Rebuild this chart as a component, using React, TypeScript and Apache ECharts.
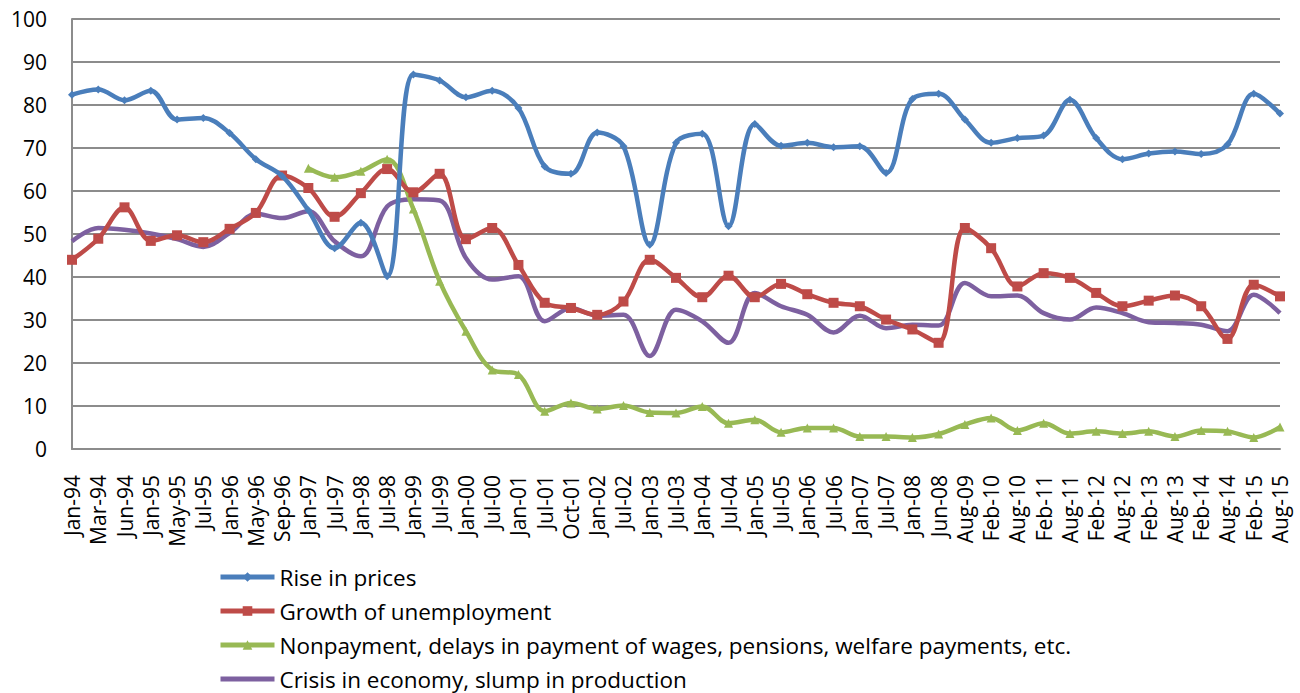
import React, { useEffect, useRef } from "react";
import * as echarts from "echarts";

const categories = [
  "Jan-94", "Mar-94", "Jun-94", "Jan-95", "May-95", "Jul-95", "Jan-96", "May-96", "Sep-96",
  "Jan-97", "Jul-97", "Jan-98", "Jul-98", "Jan-99", "Jul-99", "Jan-00", "Jul-00", "Jan-01",
  "Jul-01", "Oct-01", "Jan-02", "Jul-02", "Jan-03", "Jul-03", "Jan-04", "Jul-04", "Jan-05",
  "Jul-05", "Jan-06", "Jul-06", "Jan-07", "Jul-07", "Jan-08", "Jun-08", "Aug-09", "Feb-10",
  "Aug-10", "Feb-11", "Aug-11", "Feb-12", "Aug-12", "Feb-13", "Aug-13", "Feb-14", "Aug-14",
  "Feb-15", "Aug-15",
];

const riseInPrices = [
  82.4, 83.6, 81.1, 83.3, 76.6, 77.0, 73.5, 67.4, 63.5, 55.5, 46.7, 52.6, 40.2, 87.1, 85.7,
  81.8, 83.3, 79.3, 65.7, 64.0, 73.6, 70.4, 47.5, 71.2, 73.3, 51.8, 75.6, 70.5, 71.2, 70.2,
  70.4, 64.2, 81.4, 82.6, 76.6, 71.2, 72.3, 72.9, 81.2, 72.3, 67.4, 68.7, 69.2, 68.6, 70.8,
  82.6, 78.0,
];

const unemployment = [
  44.0, 48.9, 56.2, 48.4, 49.7, 48.1, 51.2, 54.9, 63.6, 60.7, 54.0, 59.5, 65.1, 59.7, 64.0,
  48.8, 51.4, 42.8, 34.0, 32.8, 31.2, 34.3, 44.0, 39.8, 35.3, 40.3, 35.3, 38.4, 36.0, 34.0,
  33.2, 30.1, 27.8, 24.7, 51.4, 46.7, 37.8, 40.9, 39.8, 36.3, 33.2, 34.5, 35.7, 33.2, 25.6,
  38.2, 35.5,
];

const nonpayment = [
  null, null, null, null, null, null, null, null, null, 65.3, 63.2, 64.6, 67.4, 55.8, 39.0,
  27.4, 18.4, 17.3, 8.8, 10.7, 9.3, 10.1, 8.5, 8.4, 9.9, 6.0, 6.8, 3.9, 4.9, 4.9,
  2.9, 2.9, 2.7, 3.5, 5.7, 7.2, 4.3, 6.0, 3.6, 4.1, 3.6, 4.1, 2.9, 4.3, 4.1,
  2.7, 5.1,
];

const crisis = [
  48.3, 51.4, 51.0, 50.1, 48.8, 47.0, 50.2, 54.7, 53.7, 55.3, 48.3, 44.8, 56.4, 58.1, 57.8,
  44.4, 39.4, 40.2, 29.7, 32.8, 31.0, 31.2, 21.6, 32.4, 29.7, 24.7, 36.3, 33.2, 31.2, 27.1,
  31.0, 28.1, 28.9, 28.7, 38.6, 35.5, 35.7, 31.6, 30.1, 32.9, 31.6, 29.5, 29.3, 28.9, 27.4,
  35.9, 31.6,
];

const seriesNames = [
  "Rise in prices",
  "Growth of unemployment",
  "Nonpayment, delays in payment of wages, pensions, welfare payments, etc.",
  "Crisis in economy, slump in production",
];

const FONT = "Open Sans";

export default function App() {
  const ref = useRef<HTMLDivElement>(null);
  useEffect(() => {
    document.body.style.margin = "0";
    const chart = echarts.init(ref.current!, null, { renderer: "svg" });
    const smooth = 0.35;
    chart.setOption({
      animation: false,
      backgroundColor: "#ffffff",
      grid: { left: 72, right: 20, top: 19, bottom: 244, containLabel: false },
      legend: {
        orient: "vertical",
        left: 218,
        top: 565,
        padding: 0,
        height: 130,
        itemWidth: 54,
        itemHeight: 12,
        itemGap: 10,
        lineStyle: { width: 5 },
        textStyle: { fontFamily: FONT, fontSize: 22.5, color: "#000", lineHeight: 24 },
        data: [
          { name: seriesNames[0] },
          { name: seriesNames[1] },
          { name: seriesNames[2] },
          { name: seriesNames[3], itemStyle: { opacity: 0 } },
        ],
      },
      xAxis: {
        type: "category",
        data: categories,
        boundaryGap: false,
        axisLine: { show: true, lineStyle: { color: "#8c8c8c", width: 2 } },
        axisTick: { show: false },
        axisLabel: {
          rotate: 90,
          interval: 0,
          margin: 26,
          fontFamily: FONT,
          fontSize: 21,
          color: "#000",
        },
        splitLine: { show: false },
      },
      yAxis: {
        type: "value",
        min: 0,
        max: 100,
        interval: 10,
        axisLine: { show: true, lineStyle: { color: "#8c8c8c", width: 2 } },
        axisTick: { show: false },
        axisLabel: { margin: 25, fontFamily: FONT, fontSize: 21, color: "#000" },
        splitLine: { show: true, lineStyle: { color: "#8c8c8c", width: 2 } },
      },
      series: [
        {
          name: seriesNames[0],
          type: "line",
          data: riseInPrices,
          smooth,
          symbol: "diamond",
          symbolSize: 8,
          itemStyle: { color: "#4a7ebb" },
          lineStyle: { color: "#4a7ebb", width: 4.5 },
          z: 4,
        },
        {
          name: seriesNames[1],
          type: "line",
          data: unemployment,
          smooth,
          symbol: "rect",
          symbolSize: 10,
          itemStyle: { color: "#be4b48" },
          lineStyle: { color: "#be4b48", width: 4.5 },
          z: 3,
        },
        {
          name: seriesNames[2],
          type: "line",
          data: nonpayment,
          smooth,
          symbol: "triangle",
          symbolSize: 9,
          itemStyle: { color: "#98b954" },
          lineStyle: { color: "#98b954", width: 4.5 },
          z: 2,
        },
        {
          name: seriesNames[3],
          type: "line",
          data: crisis,
          smooth,
          showSymbol: false,
          itemStyle: { color: "#7d60a0" },
          lineStyle: { color: "#7d60a0", width: 4.5 },
          z: 1,
        },
      ],
    });
    return () => chart.dispose();
  }, []);
  return <div ref={ref} style={{ width: 1300, height: 693, position: "absolute", left: 0, top: 0 }} />;
}
